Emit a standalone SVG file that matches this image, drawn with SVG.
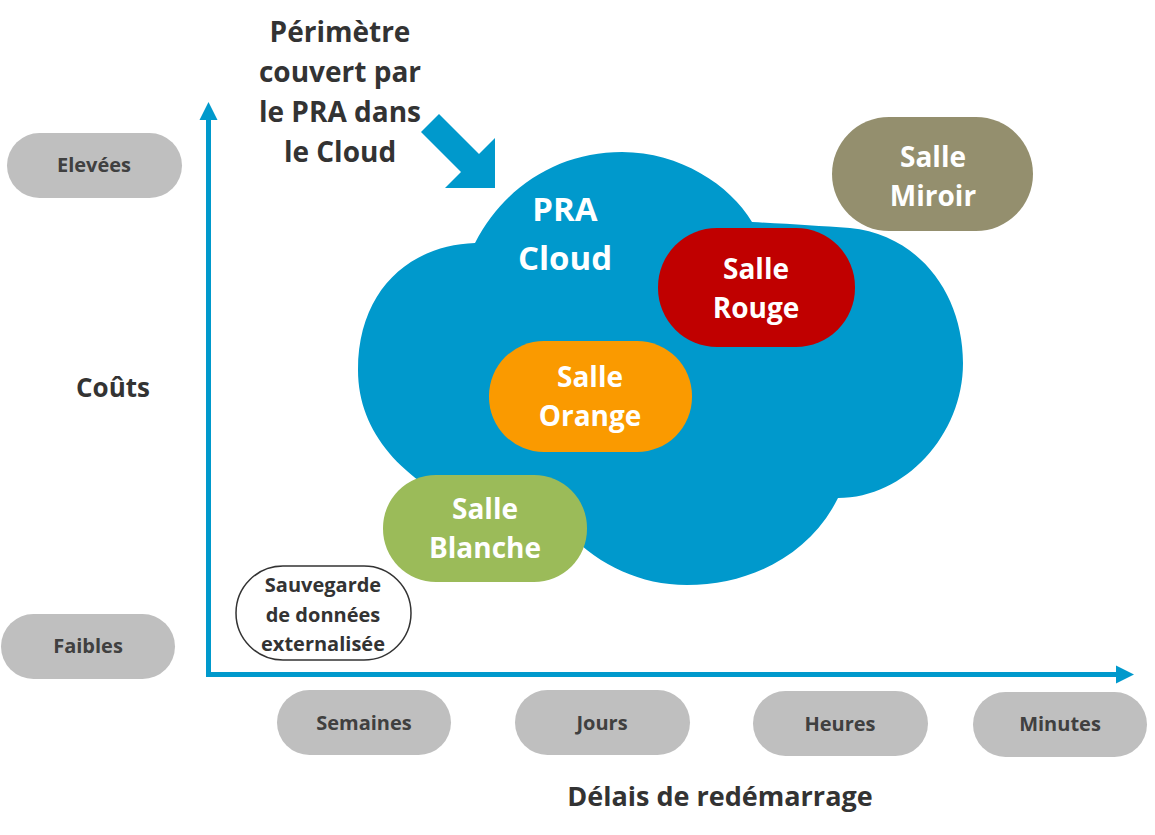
<svg xmlns="http://www.w3.org/2000/svg" width="1155" height="835" viewBox="0 0 1155 835">
<style>
.t{font-family:"Open Sans","Liberation Sans",sans-serif;font-weight:bold;text-anchor:middle}
.dark{fill:#333333}
.g{fill:#404040;font-size:20px}
.w{fill:#ffffff}
.pill{fill:#BFBFBF}
.axis{stroke:#0099CC;stroke-width:5;fill:none}
</style>
<defs>
<marker id="ah" markerUnits="userSpaceOnUse" markerWidth="20" markerHeight="20" refX="2" refY="9" orient="auto" viewBox="0 0 20 18">
<path d="M0,0 L18,9 L0,18 Z" fill="#0099CC"/>
</marker>
</defs>

<g id="connectors">
<line class="axis" x1="208.5" y1="677" x2="208.5" y2="118" marker-end="url(#ah)"/>
<line class="axis" x1="206" y1="674.5" x2="1118" y2="674.5" marker-end="url(#ah)"/>
<polygon id="perimeter-arrow" points="421,132 439,114 479,154 495,138 495,188 445,188 461,172" fill="#0099CC"/>
</g>

<g id="title">
<text class="t dark" font-size="28" x="340" y="42">Périmètre</text>
<text class="t dark" font-size="28" x="340" y="82">couvert par</text>
<text class="t dark" font-size="28" x="340" y="122">le PRA dans</text>
<text class="t dark" font-size="28" x="340" y="162">le Cloud</text>
</g>

<g id="cloud">
<path d="M475,243 C505,185 560,152 622,152 C680,152 730,185 752,222 C790,224 820,226 850,228 C920,235 963,295 963,363 C963,435 905,498 838,498 C810,555 750,585 687,585 C640,585 600,565 570,535 C450,520 358,460 358,370 C358,290 410,245 475,243 Z" fill="#0099CC"/>
<text class="t w" font-size="33" x="565" y="221">PRA</text>
<text class="t w" font-size="33" x="565" y="270">Cloud</text>
</g>

<g id="y-label"><text class="t dark" font-size="26" x="113" y="397">Coûts</text></g>
<g id="x-label"><text class="t dark" font-size="27" x="720" y="806">Délais de redémarrage</text></g>

<g id="elevees"><rect class="pill" x="7" y="133" width="175" height="65" rx="32.5"/><text class="t g" x="94" y="172">Elevées</text></g>
<g id="faibles"><rect class="pill" x="1" y="614" width="174" height="65" rx="32.5"/><text class="t g" x="88" y="653">Faibles</text></g>
<g id="semaines"><rect class="pill" x="277" y="690" width="174" height="65" rx="32.5"/><text class="t g" x="364" y="730">Semaines</text></g>
<g id="jours"><rect class="pill" x="515" y="690" width="175" height="65" rx="32.5"/><text class="t g" x="602" y="730">Jours</text></g>
<g id="heures"><rect class="pill" x="753" y="691" width="175" height="65" rx="32.5"/><text class="t g" x="840" y="731">Heures</text></g>
<g id="minutes"><rect class="pill" x="973" y="692" width="174" height="65" rx="32.5"/><text class="t g" x="1060" y="731">Minutes</text></g>

<g id="salle-miroir"><rect x="832" y="117" width="201" height="114" rx="57" fill="#948F6E"/>
<text class="t w" font-size="28" x="933" y="167">Salle</text><text class="t w" font-size="28" x="933" y="206">Miroir</text></g>

<g id="salle-rouge"><rect x="658" y="228" width="197" height="119" rx="59" fill="#C00000"/>
<text class="t w" font-size="28" x="756" y="279">Salle</text><text class="t w" font-size="28" x="756" y="318">Rouge</text></g>

<g id="salle-orange"><rect x="489" y="341" width="203" height="111" rx="55" fill="#FA9A00"/>
<text class="t w" font-size="28" x="590" y="387">Salle</text><text class="t w" font-size="28" x="590" y="426">Orange</text></g>

<g id="salle-blanche"><rect x="383" y="475" width="204" height="107" rx="53" fill="#9BBB59"/>
<text class="t w" font-size="28" x="485" y="519">Salle</text><text class="t w" font-size="28" x="485" y="558">Blanche</text></g>

<g id="sauvegarde"><rect x="236" y="566" width="175" height="94" rx="47" fill="#ffffff" stroke="#333333" stroke-width="1.5"/>
<text class="t dark" font-size="20" x="323" y="592">Sauvegarde</text>
<text class="t dark" font-size="20" x="323" y="622">de données</text>
<text class="t dark" font-size="20" x="323" y="651">externalisée</text></g>
</svg>
